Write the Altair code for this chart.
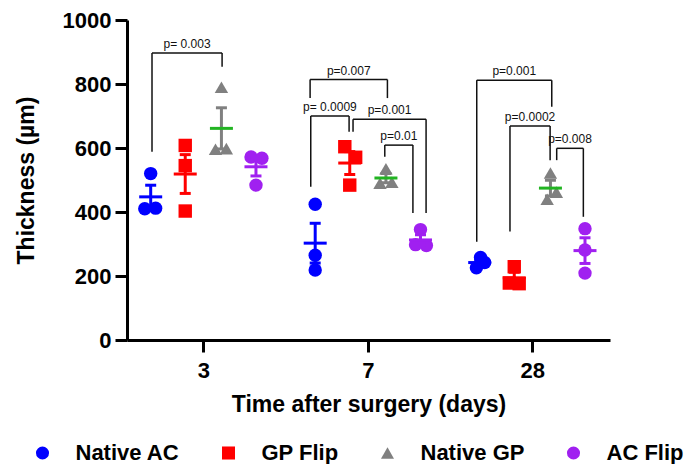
import altair as alt
import pandas as pd
import numpy as np

days = ["3", "7", "28"]
groups = ["Native AC", "GP Flip", "Native GP", "AC Flip"]
colors = ["#0000ff", "#ff0000", "#808080", "#a020f0"]
mean_colors = ["#0000ff", "#ff0000", "#22b422", "#a020f0"]
shapes = ["circle", "square", "triangle-up", "circle"]
group_offset = [-0.32, -0.11, 0.11, 0.32]

# Thickness (µm), one list of 3 animals per day (3, 7, 28)
native_ac = [[520, 410, 412], [424, 265, 219], [258, 242, 226]]
gp_flip = [[608, 545, 403], [604, 571, 484], [229, 178, 176]]
native_gp = [[790, 596, 598], [535, 490, 493], [522, 462, 440]]
ac_flip = [[572, 568, 484], [345, 298, 295], [348, 281, 209]]
values = [native_ac, gp_flip, native_gp, ac_flip]

# small horizontal scatter of the points (fraction of a day slot)
jit_native_ac = [[0, -0.036, 0.03], [0, 0, 0], [0.005, 0.03, -0.02]]
jit_gp_flip = [[0, 0, 0], [-0.03, 0.036, 0], [0, -0.03, 0.03]]
jit_native_gp = [[0, -0.036, 0.03], [0, -0.036, 0.036], [0, 0.036, -0.02]]
jit_ac_flip = [[-0.03, 0.036, 0], [0, -0.03, 0.036], [0, 0, 0]]
jitters = [jit_native_ac, jit_gp_flip, jit_native_gp, jit_ac_flip]

# significance brackets
brk_label = ["p= 0.003", "p=0.007", "p= 0.0009", "p=0.001", "p=0.01",
             "p=0.001", "p=0.0002", "p=0.008"]
brk_x1 = [-0.312, 0.649, 0.653, 0.910, 1.103, 1.662, 1.864, 2.148]
brk_x2 = [0.114, 1.119, 0.886, 1.354, 1.274, 2.118, 2.108, 2.310]
brk_top = [897, 814, 700, 690, 609, 812, 669, 599]
brk_left_end = [588, 756, 479, 651, 573, 307, 339, 562]
brk_right_end = [854, 756, 651, 397, 397, 729, 562, 385]

FONT = "Liberation Sans, Arial, Helvetica, sans-serif"

pts_rows, sum_rows = [], []
for gi, g in enumerate(groups):
    for di in range(len(days)):
        vals = values[gi][di]
        for k, v in enumerate(vals):
            pts_rows.append({"group": g, "x": di + group_offset[gi] + jitters[gi][di][k], "y": v})
        arr = np.array(vals, dtype=float)
        m = arr.mean()
        sem = arr.std(ddof=1) / np.sqrt(len(arr))
        sum_rows.append({"group": g, "x": di + group_offset[gi], "mean": m,
                         "lo": m - sem, "hi": m + sem,
                         "ecol": colors[gi], "mcol": mean_colors[gi]})
pts = pd.DataFrame(pts_rows)
summ = pd.DataFrame(sum_rows)

seg_rows, lab_rows = [], []
for i, lab in enumerate(brk_label):
    seg_rows.append({"x": brk_x1[i], "x2": brk_x2[i], "y": brk_top[i], "y2": brk_top[i]})
    seg_rows.append({"x": brk_x1[i], "x2": brk_x1[i], "y": brk_top[i], "y2": brk_left_end[i]})
    seg_rows.append({"x": brk_x2[i], "x2": brk_x2[i], "y": brk_top[i], "y2": brk_right_end[i]})
    lab_rows.append({"x": (brk_x1[i] + brk_x2[i]) / 2, "y": brk_top[i], "label": lab})
segs = pd.DataFrame(seg_rows)
labs = pd.DataFrame(lab_rows)

label_expr = "[" + ",".join("'%s'" % d for d in days) + "][datum.value]"

xscale = alt.Scale(domain=[-0.464, 2.472], nice=False, zero=False)
yscale = alt.Scale(domain=[0, 1000], nice=False)

xenc = alt.X("x:Q", scale=xscale,
             axis=alt.Axis(values=[0, 1, 2], labelExpr=label_expr,
                           title="Time after surgery (days)",
                           labelPadding=8, titlePadding=12))
yenc = alt.Y("y:Q", scale=yscale,
             axis=alt.Axis(values=[0, 200, 400, 600, 800, 1000], format="d",
                           title="Thickness (µm)", labelPadding=4, titlePadding=24))

legend = alt.Legend(title=None, orient="none", direction="horizontal",
                    legendX=-95.5, legendY=422, labelFontSize=22,
                    labelFontWeight="bold", labelFont=FONT, labelColor="black",
                    symbolSize=170, labelOffset=22, columnPadding=38,
                    symbolStrokeWidth=0, padding=0)

points = alt.Chart(pts).mark_point(filled=True, size=180, opacity=1).encode(
    x=xenc, y=yenc,
    color=alt.Color("group:N", scale=alt.Scale(domain=groups, range=colors), legend=legend),
    shape=alt.Shape("group:N", scale=alt.Scale(domain=groups, range=shapes), legend=legend),
)

ebar = alt.Chart(summ).mark_rule(strokeWidth=3).encode(
    x=alt.X("x:Q", scale=xscale), y=alt.Y("lo:Q", scale=yscale), y2="hi:Q",
    color=alt.Color("ecol:N", scale=None))
cap_hi = alt.Chart(summ).mark_tick(orient="horizontal", size=11, thickness=3, opacity=1).encode(
    x=alt.X("x:Q", scale=xscale), y=alt.Y("hi:Q", scale=yscale),
    color=alt.Color("ecol:N", scale=None))
cap_lo = alt.Chart(summ).mark_tick(orient="horizontal", size=11, thickness=3, opacity=1).encode(
    x=alt.X("x:Q", scale=xscale), y=alt.Y("lo:Q", scale=yscale),
    color=alt.Color("ecol:N", scale=None))
mean = alt.Chart(summ).mark_tick(orient="horizontal", size=23, thickness=3, opacity=1).encode(
    x=alt.X("x:Q", scale=xscale), y=alt.Y("mean:Q", scale=yscale),
    color=alt.Color("mcol:N", scale=None))

brackets = alt.Chart(segs).mark_rule(strokeWidth=1.5, color="#111111").encode(
    x=alt.X("x:Q", scale=xscale), x2="x2:Q",
    y=alt.Y("y:Q", scale=yscale), y2="y2:Q")
ptext = alt.Chart(labs).mark_text(font=FONT, fontSize=12, color="#111111",
                                  baseline="alphabetic", dy=-5).encode(
    x=alt.X("x:Q", scale=xscale), y=alt.Y("y:Q", scale=yscale), text="label:N")

chart = alt.layer(points, ebar, cap_hi, cap_lo, mean, brackets, ptext).properties(
    width=483, height=320,
    autosize=alt.AutoSizeParams(type="none"),
    padding={"left": 119, "top": 12, "right": 76, "bottom": 124},
).configure_view(stroke=None).configure_axis(
    labelFont=FONT, titleFont=FONT, labelFontSize=22, labelFontWeight="bold",
    titleFontSize=23, titleFontWeight="bold", labelColor="black", titleColor="black",
    domainColor="black", tickColor="black", domainWidth=3, tickWidth=3, tickSize=12,
    grid=False,
)

chart.save("out.html", embed_options={"renderer": "svg", "actions": False})
